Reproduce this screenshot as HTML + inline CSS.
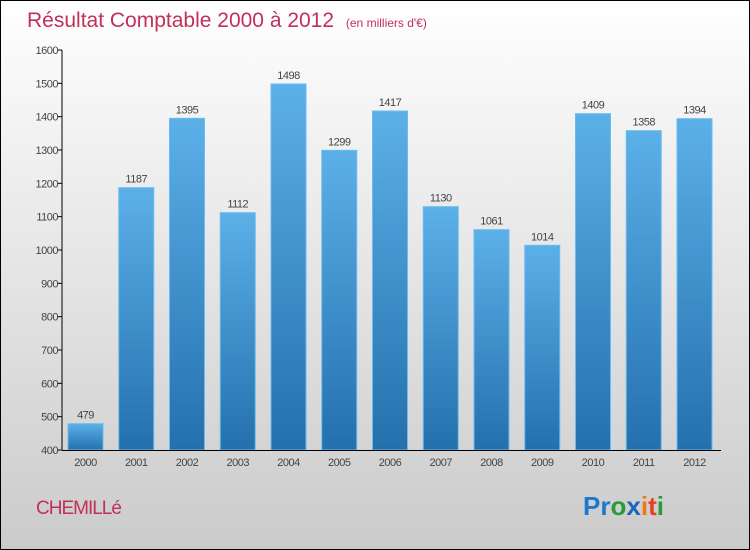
<!DOCTYPE html>
<html><head><meta charset="utf-8"><style>
body{margin:0}
#c{width:748px;height:548px;border:1px solid #000;background:linear-gradient(#fff,#f4f4f4 20%,#cbcbcb);position:relative;font-family:"Liberation Sans",sans-serif;overflow:hidden}
</style></head><body>
<div id="c">
<svg id="s" width="748" height="548">
<defs><linearGradient id="g" x1="0" y1="0" x2="0" y2="1"><stop offset="0" stop-color="#5cb0e8"/><stop offset="1" stop-color="#2470ad"/></linearGradient></defs>
<text x="26" y="26" font-size="21" fill="#c0305a">Résultat Comptable 2000 à 2012 <tspan font-size="12" dx="6">(en milliers d'€)</tspan></text>
<text x="35" y="513" font-size="19" fill="#c0305a" letter-spacing="-1">CHEMILLé</text>
<text x="582" y="514" font-size="26" font-weight="bold"><tspan fill="#1a7acc">Pr</tspan><tspan fill="#2a9a3a">o</tspan><tspan fill="#1a66bb">x</tspan><tspan fill="#f07a10">i</tspan><tspan fill="#e84020">t</tspan><tspan fill="#2a9a3a">i</tspan></text>
</svg>
</div>
<script>
const years=["2000","2001","2002","2003","2004","2005","2006","2007","2008","2009","2010","2011","2012"];
const values=[479,1187,1395,1112,1498,1299,1417,1130,1061,1014,1409,1358,1394];
const yTicks=[400,500,600,700,800,900,1000,1100,1200,1300,1400,1500,1600];
const s=document.getElementById('s');const NS="http://www.w3.org/2000/svg";
function y(v){return 449-(v-400)*400/1200;}
function x(i){return 84.5+i*50.75;}
function el(t,a,txt){const e=document.createElementNS(NS,t);for(const k in a)e.setAttribute(k,a[k]);if(txt!=null)e.textContent=txt;s.appendChild(e);return e;}
yTicks.forEach(v=>{
const t=el('text',{x:57,y:y(v)+4,'font-size':11,fill:'#444','text-anchor':'end','letter-spacing':'-0.5'},v);


const l=el('line',{x1:57,x2:61,y1:y(v),y2:y(v),stroke:'#000'});


});
values.forEach((v,i)=>{
const b=el('rect',{x:x(i)-17.5,y:y(v),width:35,height:y(400)-y(v),fill:'url(#g)',stroke:'#6bbcf0','stroke-width':1});


const t=el('text',{x:x(i),y:y(v)-5,'font-size':11,fill:'#444','text-anchor':'middle','letter-spacing':'-0.5'},v);


const xl=el('text',{x:x(i),y:465,'font-size':11,fill:'#444','text-anchor':'middle','letter-spacing':'-0.5'},years[i]);


});
const ya=el('line',{x1:61,x2:61,y1:49,y2:449.5,stroke:'#000'});


const xa=el('line',{x1:61,x2:720,y1:449.5,y2:449.5,stroke:'#000'});


</script>
</body></html>
